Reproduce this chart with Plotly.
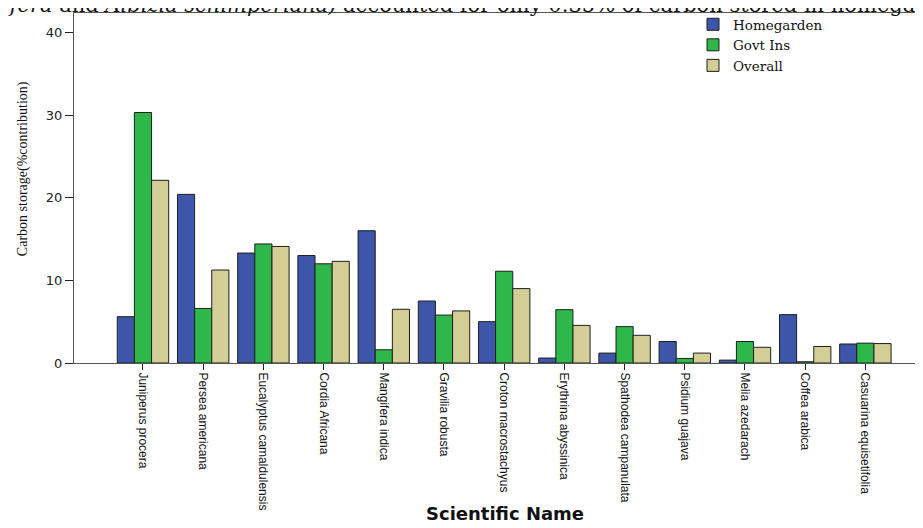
import plotly.graph_objects as go

species = ["Juniperus procera", "Persea americana", "Eucalyptus camaldulensis",
           "Cordia Africana", "Mangifera indica", "Gravilia robusta",
           "Croton macrostachyus", "Erythrina abyssinica", "Spathodea campanulata",
           "Psidium guajava", "Melia azedarach", "Coffea arabica",
           "Casuarina equisetifolia"]
homegarden = [5.6, 20.4, 13.3, 13.0, 16.0, 7.5, 5.0, 0.6, 1.2, 2.6, 0.35, 5.85, 2.3]
govt_ins = [30.3, 6.6, 14.4, 12.0, 1.6, 5.8, 11.1, 6.45, 4.4, 0.55, 2.6, 0.15, 2.4]
overall = [22.1, 11.25, 14.1, 12.3, 6.5, 6.3, 9.0, 4.55, 3.35, 1.2, 1.9, 2.0, 2.35]
y_ticks = [0, 10, 20, 30, 40]

# page body has an 8px margin: work in window pixels, convert to figure pixels
OFF = 8
W, H = 923, 528
L, R, T = 74 - OFF, 8, 13 - OFF
B = H - (362.7 - OFF)
pw, ph = W - L - R, H - T - B

def px(x):  # window pixel -> paper x
    return (x - OFF - L) / pw

def py(y):  # window pixel -> paper y
    return (H - B - (y - OFF)) / ph

series = [("Homegarden", homegarden, "#3d56aa"),
          ("Govt Ins", govt_ins, "#2eb84a"),
          ("Overall", overall, "#d3ce96")]

fig = go.Figure()
for name, vals, col in series:
    fig.add_trace(go.Bar(x=species, y=vals, name=name,
                         marker=dict(color=col, line=dict(color="#1e1e1e", width=1))))

fig.update_layout(
    width=W, height=H,
    margin=dict(l=L, r=R, t=T, b=B, autoexpand=False),
    paper_bgcolor="white", plot_bgcolor="white",
    barmode="group", bargap=0.146, bargroupgap=0,
    showlegend=True,
    legend=dict(x=px(693), y=py(9), xanchor="left", yanchor="top",
                bgcolor="rgba(0,0,0,0)", borderwidth=0,
                font=dict(family="DejaVu Serif", size=13.5, color="#111"),
                itemwidth=30, tracegroupgap=0),
    xaxis=dict(type="category", categoryorder="array", categoryarray=species,
               range=[-1.146, 12.957], showline=True, linecolor="#555", linewidth=1,
               mirror=True, ticks="outside", ticklen=6, tickcolor="#222",
               tickangle=90, showgrid=False, zeroline=False, automargin=False,
               tickfont=dict(family="Liberation Sans", size=12, color="#111")),
    yaxis=dict(range=[0, 42.34], tickvals=y_ticks, showline=True, linecolor="#555",
               linewidth=1, ticks="outside", ticklen=8, tickcolor="#222",
               showgrid=False, zeroline=False, automargin=False,
               tickfont=dict(family="DejaVu Sans", size=13, color="#222")),
    annotations=[
        dict(text="Scientific Name", x=px(505), y=py(513), xref="paper", yref="paper",
             showarrow=False, xanchor="center", yanchor="middle",
             font=dict(family="DejaVu Sans", size=18, color="#111", weight="bold")),
        dict(text="Carbon storage(%contribution)", x=px(23), y=py(169),
             xref="paper", yref="paper", showarrow=False, textangle=-90,
             xanchor="center", yanchor="middle",
             font=dict(family="Liberation Serif", size=14, color="#111")),
        dict(text="<i>ifera</i> and <i>Albizia schimperiana)</i> accounted for only 0.35% of carbon stored in homega",
             x=px(1), y=py(5.5), xref="paper", yref="paper", showarrow=False,
             xanchor="left", yanchor="middle",
             font=dict(family="DejaVu Serif", size=21, color="#111")),
    ],
)

fig.write_html("out.html")
